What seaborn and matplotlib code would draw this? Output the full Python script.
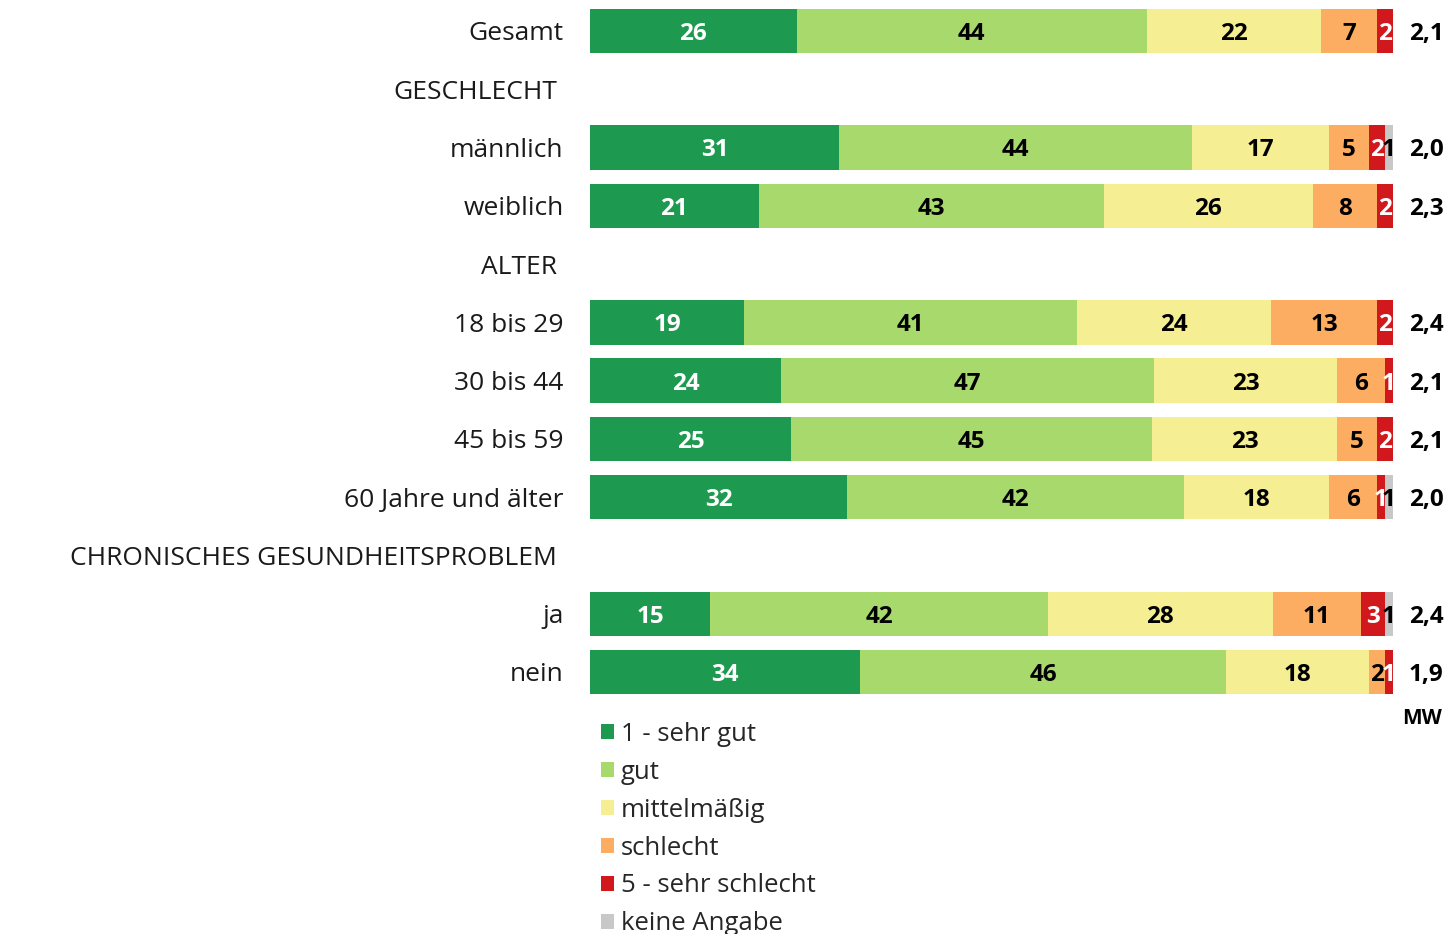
import matplotlib
matplotlib.use("Agg")
import matplotlib.pyplot as plt
import pandas as pd
import seaborn as sns
from matplotlib.patches import Patch

# ── Data ────────────────────────────────────────────────────────────────
ROWS = [
    "Gesamt", "GESCHLECHT", "männlich", "weiblich", "ALTER",
    "18 bis 29", "30 bis 44", "45 bis 59", "60 Jahre und älter",
    "CHRONISCHES GESUNDHEITSPROBLEM", "ja", "nein",
]
HEADERS = ["GESCHLECHT", "ALTER", "CHRONISCHES GESUNDHEITSPROBLEM"]
GROUPS = [
    "Gesamt", "männlich", "weiblich", "18 bis 29", "30 bis 44",
    "45 bis 59", "60 Jahre und älter", "ja", "nein",
]

SEHR_GUT = [26, 31, 21, 19, 24, 25, 32, 15, 34]
GUT = [44, 44, 43, 41, 47, 45, 42, 42, 46]
MITTEL = [22, 17, 26, 24, 23, 23, 18, 28, 18]
SCHLECHT = [7, 5, 8, 13, 6, 5, 6, 11, 2]
SEHR_SCHLECHT = [2, 2, 2, 2, 1, 2, 1, 3, 1]
KEINE_ANGABE = [0, 1, 0, 0, 0, 0, 1, 1, 0]
MW = ["2,1", "2,0", "2,3", "2,4", "2,1", "2,1", "2,0", "2,4", "1,9"]

CATEGORIES = ["1 - sehr gut", "gut", "mittelmäßig", "schlecht", "5 - sehr schlecht", "keine Angabe"]
COLORS = ["#1d9a50", "#a8d96c", "#f5ee93", "#fdad61", "#d0181d", "#c8c8c8"]
TEXT_COLORS = ["white", "black", "black", "black", "white", "black"]

series = [SEHR_GUT, GUT, MITTEL, SCHLECHT, SEHR_SCHLECHT, KEINE_ANGABE]

# long table, each row normalised to 100 so all bars end at the same place
records = []
for i, grp in enumerate(GROUPS):
    total = sum(s[i] for s in series)
    cum = 0.0
    for cat, s in zip(CATEGORIES, series):
        share = s[i] * 100.0 / total
        records.append(
            {"row": grp, "cat": cat, "value": s[i], "start": cum, "cum": cum + share}
        )
        cum += share
df = pd.DataFrame(records)

# ── Figure ──────────────────────────────────────────────────────────────
sns.set_style("white")
plt.rcParams["font.family"] = ["Open Sans", "DejaVu Sans"]

W, H = 1449, 934
fig = plt.figure(figsize=(W / 100, H / 100), dpi=100)
row_step = (672 - 31) / 11
top_px = 31 - row_step / 2
bot_px = 672 + row_step / 2
ax = fig.add_axes([590 / W, 1 - bot_px / H, (1393 - 590) / W, (bot_px - top_px) / H])

# stacked bars: draw cumulative totals from the last category backwards
for cat, color in reversed(list(zip(CATEGORIES, COLORS))):
    sub = df[df["cat"] == cat]
    sns.barplot(
        data=sub, x="cum", y="row", order=ROWS, color=color, saturation=1,
        width=0.76, linewidth=0, errorbar=None, orient="h", ax=ax,
    )

DY = 0.05  # nudge text down a little so glyphs sit centred in the bars

# segment labels
for _, r in df.iterrows():
    if r["value"] == 0:
        continue
    k = CATEGORIES.index(r["cat"])
    ax.text(
        (r["start"] + r["cum"]) / 2, ROWS.index(r["row"]) + DY, str(r["value"]),
        ha="center", va="center", fontsize=17.5, fontweight="bold",
        color=TEXT_COLORS[k],
    )

# row labels and section headers
for i, name in enumerate(ROWS):
    x = -4.1 if name in HEADERS else -3.3
    ax.text(x, i + DY, name, ha="right", va="center", fontsize=19, color="#1a1a1a")

# mean values
for grp, mw in zip(GROUPS, MW):
    ax.text(104.1, ROWS.index(grp) + DY, mw, ha="center", va="center",
            fontsize=17.5, fontweight="bold", color="black")
ax.text(103.6, 11.8, "MW", ha="center", va="center", fontsize=15,
        fontweight="bold", color="black")

ax.set_xlim(0, 100)
ax.set_ylim(11.5, -0.5)
ax.set_xlabel("")
ax.set_ylabel("")
ax.set_xticks([])
ax.set_yticks([])
sns.despine(ax=ax, left=True, bottom=True)

handles = [Patch(facecolor=c, edgecolor="none", label=l) for l, c in zip(CATEGORIES, COLORS)]
fig.legend(
    handles=handles, loc="upper left", bbox_to_anchor=(601 / W, 1 - 722 / H),
    frameon=False, fontsize=18.5, handlelength=0.52, handleheight=0.52,
    handletextpad=0.25, labelspacing=0.5, borderaxespad=0, borderpad=0,
)

fig.savefig("out.png", dpi=100)
